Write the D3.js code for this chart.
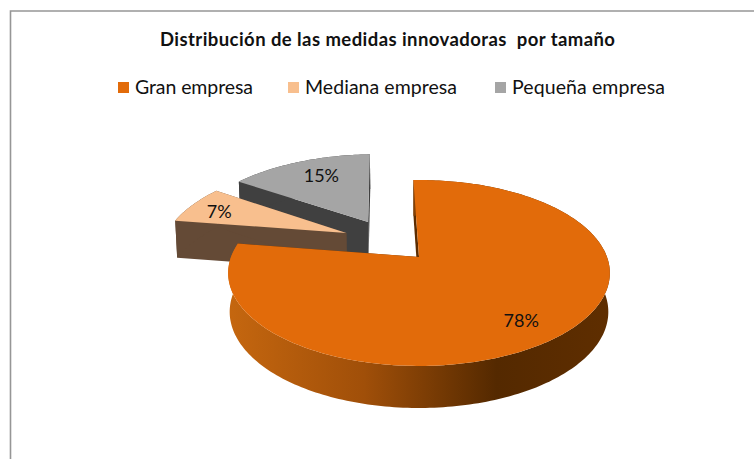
<!DOCTYPE html>
<html>
<head>
<meta charset="utf-8">
<script src="https://cdn.jsdelivr.net/npm/d3@7"></script>
<style>
  body { margin: 0; background: #fff; }
  text { font-family: Lato, "Open Sans", sans-serif; fill: #111; }
</style>
</head>
<body>
<div id="chart"></div>
<script>
var title = "Distribución de las medidas innovadoras  por tamaño"
var categories = ["Gran empresa", "Mediana empresa", "Pequeña empresa"]
var values = [78, 7, 15]

var topColors = ["#e26b0a", "#f8bf8e", "#a5a5a5"]
var wallColors = ["#5c2c00", "#644a36", "#404040"]

// how far each slice is pulled out of the pie, in disc units
var explode = [[0, 0], [-0.405, -0.28], [-0.29, -0.416]]
var legendX = [118, 288, 495]
var legendWidth = [118, 152, 153]
var labelNudge = [[-6, 6], [-6, 1], [8, 2]]

var width = 754,
  height = 459

var svg = d3.select("#chart")
  .append("svg")
  .attr("width", width)
  .attr("height", height)

// frame, only top and left reach the picture
svg.append("path")
  .attr("d", d3.line()([[width, 11], [10.5, 11], [10.5, height]]))
  .attr("fill", "none")
  .attr("stroke", "#969696")
  .attr("stroke-width", 1.6)

svg.append("text")
  .attr("x", 160)
  .attr("y", 46)
  .attr("font-size", 18.5)
  .attr("font-weight", 700)
  .attr("textLength", 455)
  .attr("lengthAdjust", "spacing")
  .style("white-space", "pre")
  .text(title)

var legend = svg.selectAll(".legend")
  .data(categories)
  .enter()
  .append("g")
  .attr("class", "legend")
  .attr("transform", function(d, i) { return "translate(" + legendX[i] + ",0)" })

legend.append("rect")
  .attr("y", 82)
  .attr("width", 11)
  .attr("height", 11)
  .attr("fill", function(d, i) { return topColors[i] })

legend.append("text")
  .attr("x", 17)
  .attr("y", 94)
  .attr("font-size", 19.5)
  .attr("textLength", function(d, i) { return legendWidth[i] })
  .text(function(d) { return d })

// perspective of the disc: near side is larger than the far side
var persp = 0.172
var topPlane = { x: 419, y: 257, w: 188, h: 90.2 }
var bottomPlane = { x: 419, y: 295.3, w: 186.5, h: 93.3 }

function project(plane, u, v) {
  var k = 1 / (1 - persp * v)
  return [plane.x + plane.w * u * k, plane.y + plane.h * v * k]
}

function onDisc(plane, angle, off, r) {
  return project(plane, r * Math.sin(angle) + off[0], -r * Math.cos(angle) + off[1])
}

var pie = d3.pie()
  .sort(null)
  .startAngle(-2 * Math.PI / 180)
  .endAngle(358 * Math.PI / 180)
  .value(function(d) { return d })

var arcs = pie(values)
var line = d3.line()

var defs = svg.append("defs")
var grad = defs.append("linearGradient")
  .attr("id", "sideOrange")
  .attr("gradientUnits", "userSpaceOnUse")
  .attr("x1", 232).attr("x2", 610)
  .attr("y1", 0).attr("y2", 0)
grad.selectAll("stop")
  .data([[0, "#c4660f"], [0.35, "#a04f09"], [0.7, "#542900"], [1, "#5f2e00"]])
  .enter()
  .append("stop")
  .attr("offset", function(d) { return d[0] })
  .attr("stop-color", function(d) { return d[1] })

function arcAngles(d) {
  var n = Math.ceil((d.endAngle - d.startAngle) / 0.02)
  return d3.range(n + 1).map(function(i) {
    return d.startAngle + (d.endAngle - d.startAngle) * i / n
  })
}

// far slices first so the big one sits on top
var order = [2, 1, 0]

order.forEach(function(i) {
  var d = arcs[i]
  var off = explode[i]
  var g = svg.append("g")
  var angles = arcAngles(d)
  var wallFill = i === 0 ? "url(#sideOrange)" : wallColors[i]

  // flat walls
  ;[d.startAngle, d.endAngle].forEach(function(a) {
    g.append("path")
      .attr("d", line([
        project(topPlane, off[0], off[1]),
        onDisc(topPlane, a, off, 1),
        onDisc(bottomPlane, a, off, 1),
        project(bottomPlane, off[0], off[1])
      ]) + "Z")
      .attr("fill", wallColors[i])
  })

  // outer wall
  var outer = angles.map(function(a) { return onDisc(topPlane, a, off, 1) })
    .concat(angles.slice().reverse().map(function(a) { return onDisc(bottomPlane, a, off, 1) }))
  g.append("path")
    .attr("d", line(outer) + "Z")
    .attr("fill", wallFill)

  // top face
  var face = [project(topPlane, off[0], off[1])]
    .concat(angles.map(function(a) { return onDisc(topPlane, a, off, 1) }))
  g.append("path")
    .attr("d", line(face) + "Z")
    .attr("fill", topColors[i])
})

// value labels
svg.selectAll(".val")
  .data(arcs)
  .enter()
  .append("text")
  .attr("class", "val")
  .attr("text-anchor", "middle")
  .attr("font-size", 18)
  .attr("transform", function(d) {
    var mid = (d.startAngle + d.endAngle) / 2
    var p = onDisc(topPlane, mid, explode[d.index], 0.78)
    var nudge = labelNudge[d.index]
    return "translate(" + (p[0] + nudge[0]) + "," + (p[1] + 6 + nudge[1]) + ")"
  })
  .text(function(d) { return d.value + "%" })
</script>
</body>
</html>
